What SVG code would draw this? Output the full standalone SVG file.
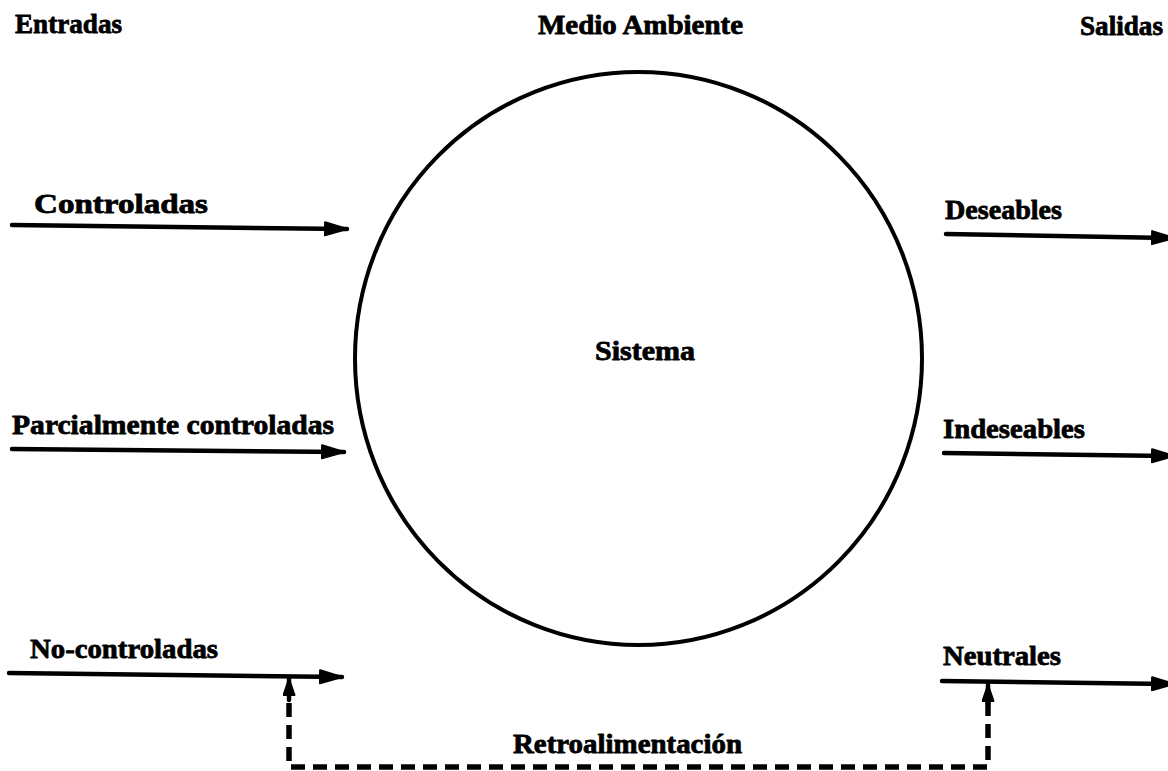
<svg xmlns="http://www.w3.org/2000/svg" width="1168" height="771" viewBox="0 0 1168 771">
  <style>
    .lbl { font-family: "Liberation Serif", "Times New Roman", serif; font-weight: bold; font-size: 28px; fill: #000; stroke: #000; stroke-width: 0.8; stroke-linejoin: round; }
    .flow { fill: none; stroke: #000; stroke-width: 4.5; stroke-linecap: round; }
    .feedback { fill: none; stroke: #000; stroke-width: 5.5; stroke-dasharray: 14 8; stroke-linejoin: round; }
    .head { fill: #000; stroke: #000; stroke-width: 2; stroke-linejoin: round; }
  </style>
  <defs>
    <marker id="arrow" viewBox="0 0 24 16" refX="23" refY="8" markerWidth="24" markerHeight="16" markerUnits="userSpaceOnUse" orient="auto">
      <path class="head" d="M1,1.5 L23,8 L1,14.5 Z"/>
    </marker>
    <marker id="arrowSmall" viewBox="0 0 18 13" refX="17" refY="6.5" markerWidth="18" markerHeight="13" markerUnits="userSpaceOnUse" orient="auto">
      <path class="head" d="M1,1 L17,6.5 L1,12 Z"/>
    </marker>
  </defs>

  <rect width="1168" height="771" fill="#fff"/>

  <!-- headings -->
  <g id="heading-entradas"><text class="lbl" x="15" y="33" textLength="107" lengthAdjust="spacingAndGlyphs">Entradas</text></g>
  <g id="heading-medio"><text class="lbl" x="538" y="34" textLength="205" lengthAdjust="spacingAndGlyphs">Medio Ambiente</text></g>
  <g id="heading-salidas"><text class="lbl" x="1080" y="35" textLength="83" lengthAdjust="spacingAndGlyphs">Salidas</text></g>

  <!-- system -->
  <g id="sistema">
    <ellipse cx="638.5" cy="358.5" rx="283.5" ry="286.5" fill="none" stroke="#000" stroke-width="4"/>
    <text class="lbl" x="595" y="360" textLength="100" lengthAdjust="spacingAndGlyphs">Sistema</text>
  </g>

  <!-- input labels -->
  <g id="in-controladas"><text class="lbl" x="34" y="213" textLength="174" lengthAdjust="spacingAndGlyphs">Controladas</text></g>
  <g id="in-parcial"><text class="lbl" x="12" y="434" textLength="322" lengthAdjust="spacingAndGlyphs">Parcialmente controladas</text></g>
  <g id="in-nocontroladas"><text class="lbl" x="30" y="658" textLength="188" lengthAdjust="spacingAndGlyphs">No-controladas</text></g>

  <!-- output labels -->
  <g id="out-deseables"><text class="lbl" x="945" y="219" textLength="117" lengthAdjust="spacingAndGlyphs">Deseables</text></g>
  <g id="out-indeseables"><text class="lbl" x="943" y="438" textLength="142" lengthAdjust="spacingAndGlyphs">Indeseables</text></g>
  <g id="out-neutrales"><text class="lbl" x="943" y="665" textLength="118" lengthAdjust="spacingAndGlyphs">Neutrales</text></g>

  <!-- feedback label -->
  <g id="retro"><text class="lbl" x="513" y="753" textLength="229" lengthAdjust="spacingAndGlyphs">Retroalimentación</text></g>

  <!-- connectors -->
  <g id="connectors">
    <line class="flow" x1="12" y1="225" x2="347" y2="229" marker-end="url(#arrow)"/>
    <line class="flow" x1="12" y1="449" x2="344" y2="452" marker-end="url(#arrow)"/>
    <line class="flow" x1="9" y1="673" x2="342" y2="677" marker-end="url(#arrow)"/>
    <line class="flow" x1="946" y1="234" x2="1174" y2="238" marker-end="url(#arrow)"/>
    <line class="flow" x1="944" y1="453" x2="1174" y2="456" marker-end="url(#arrow)"/>
    <line class="flow" x1="942" y1="681" x2="1174" y2="684" marker-end="url(#arrow)"/>
    <!-- feedback loop: from Neutrales output back to No-controladas input -->
    <polyline class="feedback" points="988,702 988,767 289,767 289,700"/>
    <line class="flow" x1="289" y1="700" x2="289" y2="679" marker-end="url(#arrowSmall)"/>
    <line class="flow" x1="988" y1="705" x2="988" y2="685" marker-end="url(#arrowSmall)"/>
  </g>
</svg>
